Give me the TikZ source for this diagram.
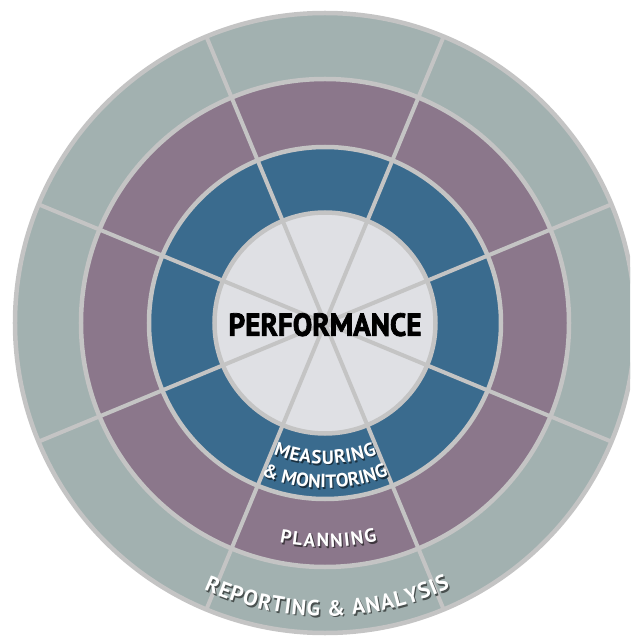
\documentclass[tikz,border=0pt]{standalone}
\usepackage{fontspec}
\usepackage{graphicx}
\usetikzlibrary{decorations.text}
\newfontfamily\perffont{PT Sans Bold}[FakeBold=2.5]
\newfontfamily\lblfont{PT Sans Bold}
\definecolor{ringteal}{HTML}{A2B1B0}
\definecolor{ringpurple}{HTML}{8B778B}
\definecolor{ringblue}{HTML}{3A6B8E}
\definecolor{coredisk}{HTML}{DFE0E4}
\definecolor{sepgray}{HTML}{C4C4C4}
\tikzset{
  sepline/.style={draw=sepgray, line width=4.5pt},
  spokeline/.style={draw=sepgray, line width=4pt},
}
% radius, start angle, end angle, font size, shadow colour, text
\newcommand\arclabel[6]{%
  \path[decorate, decoration={text along path, text align={fit to path},
     text={|\fontsize{#4pt}{#4pt}\lblfont\color{#5}|#6}}]
     ([shift={(1.3,-1.8)}]#2:#1) arc[start angle=#2, end angle=#3, radius=#1];
  \path[decorate, decoration={text along path, text align={fit to path},
     text={|\fontsize{#4pt}{#4pt}\lblfont\color{white}|#6}}]
     (#2:#1) arc[start angle=#2, end angle=#3, radius=#1];
}
\begin{document}
\begin{tikzpicture}[x=1pt,y=1pt]
\useasboundingbox (-325,-314) rectangle (305,323);
\clip (-325,-314) rectangle (305,323);
\fill[ringteal] (0,0) circle[radius=310];
\fill[ringpurple] (0,0) circle[radius=244];
\fill[ringblue] (0,0) circle[radius=176];
\fill[coredisk] (0,0) circle[radius=110.5];
\foreach \a in {22.5,67.5,...,337.5} \draw[spokeline] (0,0) -- (\a:310);
\foreach \r in {110.5,176,244,310} \draw[sepline] (0,0) circle[radius=\r];
\node[inner sep=0pt] (perf) at (0,-1.7) {\resizebox{193pt}{22.7pt}{\perffont PERFORMANCE}};
\arclabel{141}{248.5}{291.6}{19}{ringblue!45!black}{MEASURING}
\arclabel{165}{247.3}{292.5}{19}{ringblue!45!black}{{\&} MONITORING}
\arclabel{224}{258.3}{283.5}{19}{ringpurple!45!black}{PLANNING}
\arclabel{293}{245.6}{295.3}{22}{ringteal!45!black}{REPORTING {\&} ANALYSIS}
\end{tikzpicture}
\end{document}
